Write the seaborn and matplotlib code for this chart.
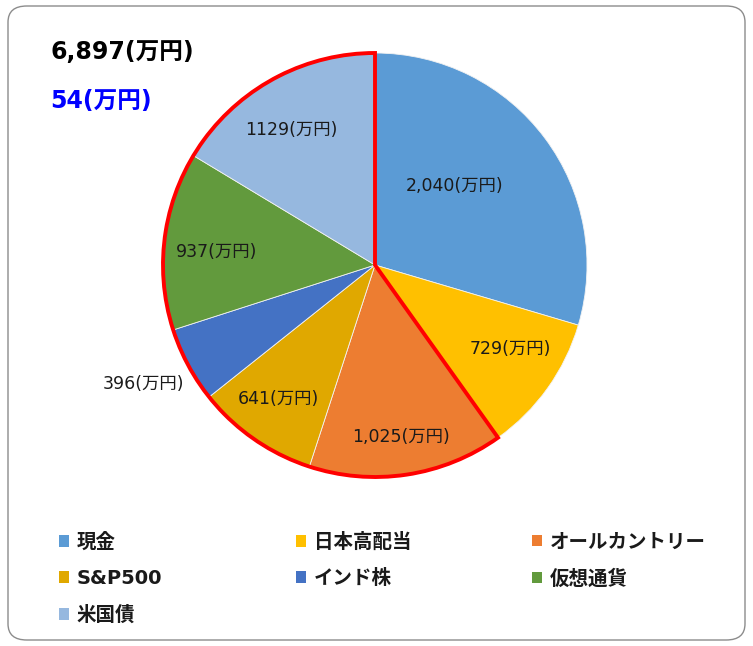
import numpy as np
import matplotlib
matplotlib.use("Agg")
import matplotlib.pyplot as plt
from matplotlib.patches import Wedge, FancyBboxPatch
import seaborn as sns

# data
categories = ["現金", "日本高配当", "オールカントリー", "S&P500", "インド株", "仮想通貨", "米国債"]
values = [2040, 729, 1025, 641, 396, 937, 1129]
value_labels = ["2,040(万円)", "729(万円)", "1,025(万円)", "641(万円)", "396(万円)", "937(万円)", "1129(万円)"]
total_label = "6,897(万円)"
sub_label = "54(万円)"
colors = ["#5B9BD5", "#FFC000", "#ED7D31", "#E0A800", "#4472C4", "#629A3D", "#96B8DF"]

# label placement: distance from centre (radius units), angle shift (deg)
label_dist = [0.53, 0.75, 0.82, 0.78, 1.23, 0.75, 0.75]
label_shift = [8, 3.5, 0, -1, -1, 2, 2.5]

sns.set_theme(style="white")
plt.rcParams['font.family'] = ['DejaVu Sans', 'Noto Sans CJK JP']

fig = plt.figure(figsize=(7.53, 6.46), dpi=100)
fig.patch.set_facecolor("white")

# rounded outer frame
frame = FancyBboxPatch((8 / 753, 6 / 646), 737 / 753, 634 / 646,
                       boxstyle="round,pad=0,rounding_size=0.025",
                       transform=fig.transFigure, facecolor="none",
                       edgecolor="#8C8C8C", linewidth=1.0)
fig.patches.append(frame)

ax = fig.add_axes([163 / 753, (646 - 265 - 212) / 646, 424 / 753, 424 / 646])
wedges, _ = ax.pie(values, colors=sns.color_palette(colors), startangle=90,
                   counterclock=False, radius=1,
                   wedgeprops=dict(linewidth=0.6, edgecolor="#F2F2F2"))
ax.set_xlim(-1, 1)
ax.set_ylim(-1, 1)
ax.set_aspect("equal")
ax.axis("off")

# value labels
for w, lab, d, s in zip(wedges, value_labels, label_dist, label_shift):
    mid = np.deg2rad((w.theta1 + w.theta2) / 2 + s)
    ax.text(d * np.cos(mid), d * np.sin(mid), lab, ha="center", va="center",
            fontsize=12.5, color="#1a1a1a")

# red outline around everything except the first two slices
frac = sum(values[:2]) / sum(values)
outline = Wedge((0, 0), 1, 90, 90 + 360 * (1 - frac), facecolor="none",
                edgecolor="#FF0000", linewidth=2.8, zorder=5)
outline.set_clip_on(False)
ax.add_patch(outline)

fig.text(50 / 753, 1 - 52 / 646, total_label, fontsize=17, fontweight="bold",
         color="black", va="center", ha="left")
fig.text(50 / 753, 1 - 101 / 646, sub_label, fontsize=17, fontweight="bold",
         color="#0000FF", va="center", ha="left")

# legend, row-major in three columns
col_x = [41 / 753, 278 / 753, 514 / 753]
for c in range(3):
    idx = list(range(c, len(categories), 3))
    leg = fig.legend([wedges[i] for i in idx], [categories[i] for i in idx],
                     loc="upper left", bbox_to_anchor=(col_x[c], 1 - 515 / 646),
                     frameon=False, handlelength=0.55, handleheight=0.55,
                     handletextpad=0.4, labelspacing=0.9,
                     prop=dict(family=["DejaVu Sans", "Noto Sans CJK JP"],
                               size=14, weight="bold"))
    for t in leg.get_texts():
        t.set_color("#1a1a1a")
    for h in leg.legend_handles:
        h.set_edgecolor("none")

fig.savefig("out.png", dpi=100)
